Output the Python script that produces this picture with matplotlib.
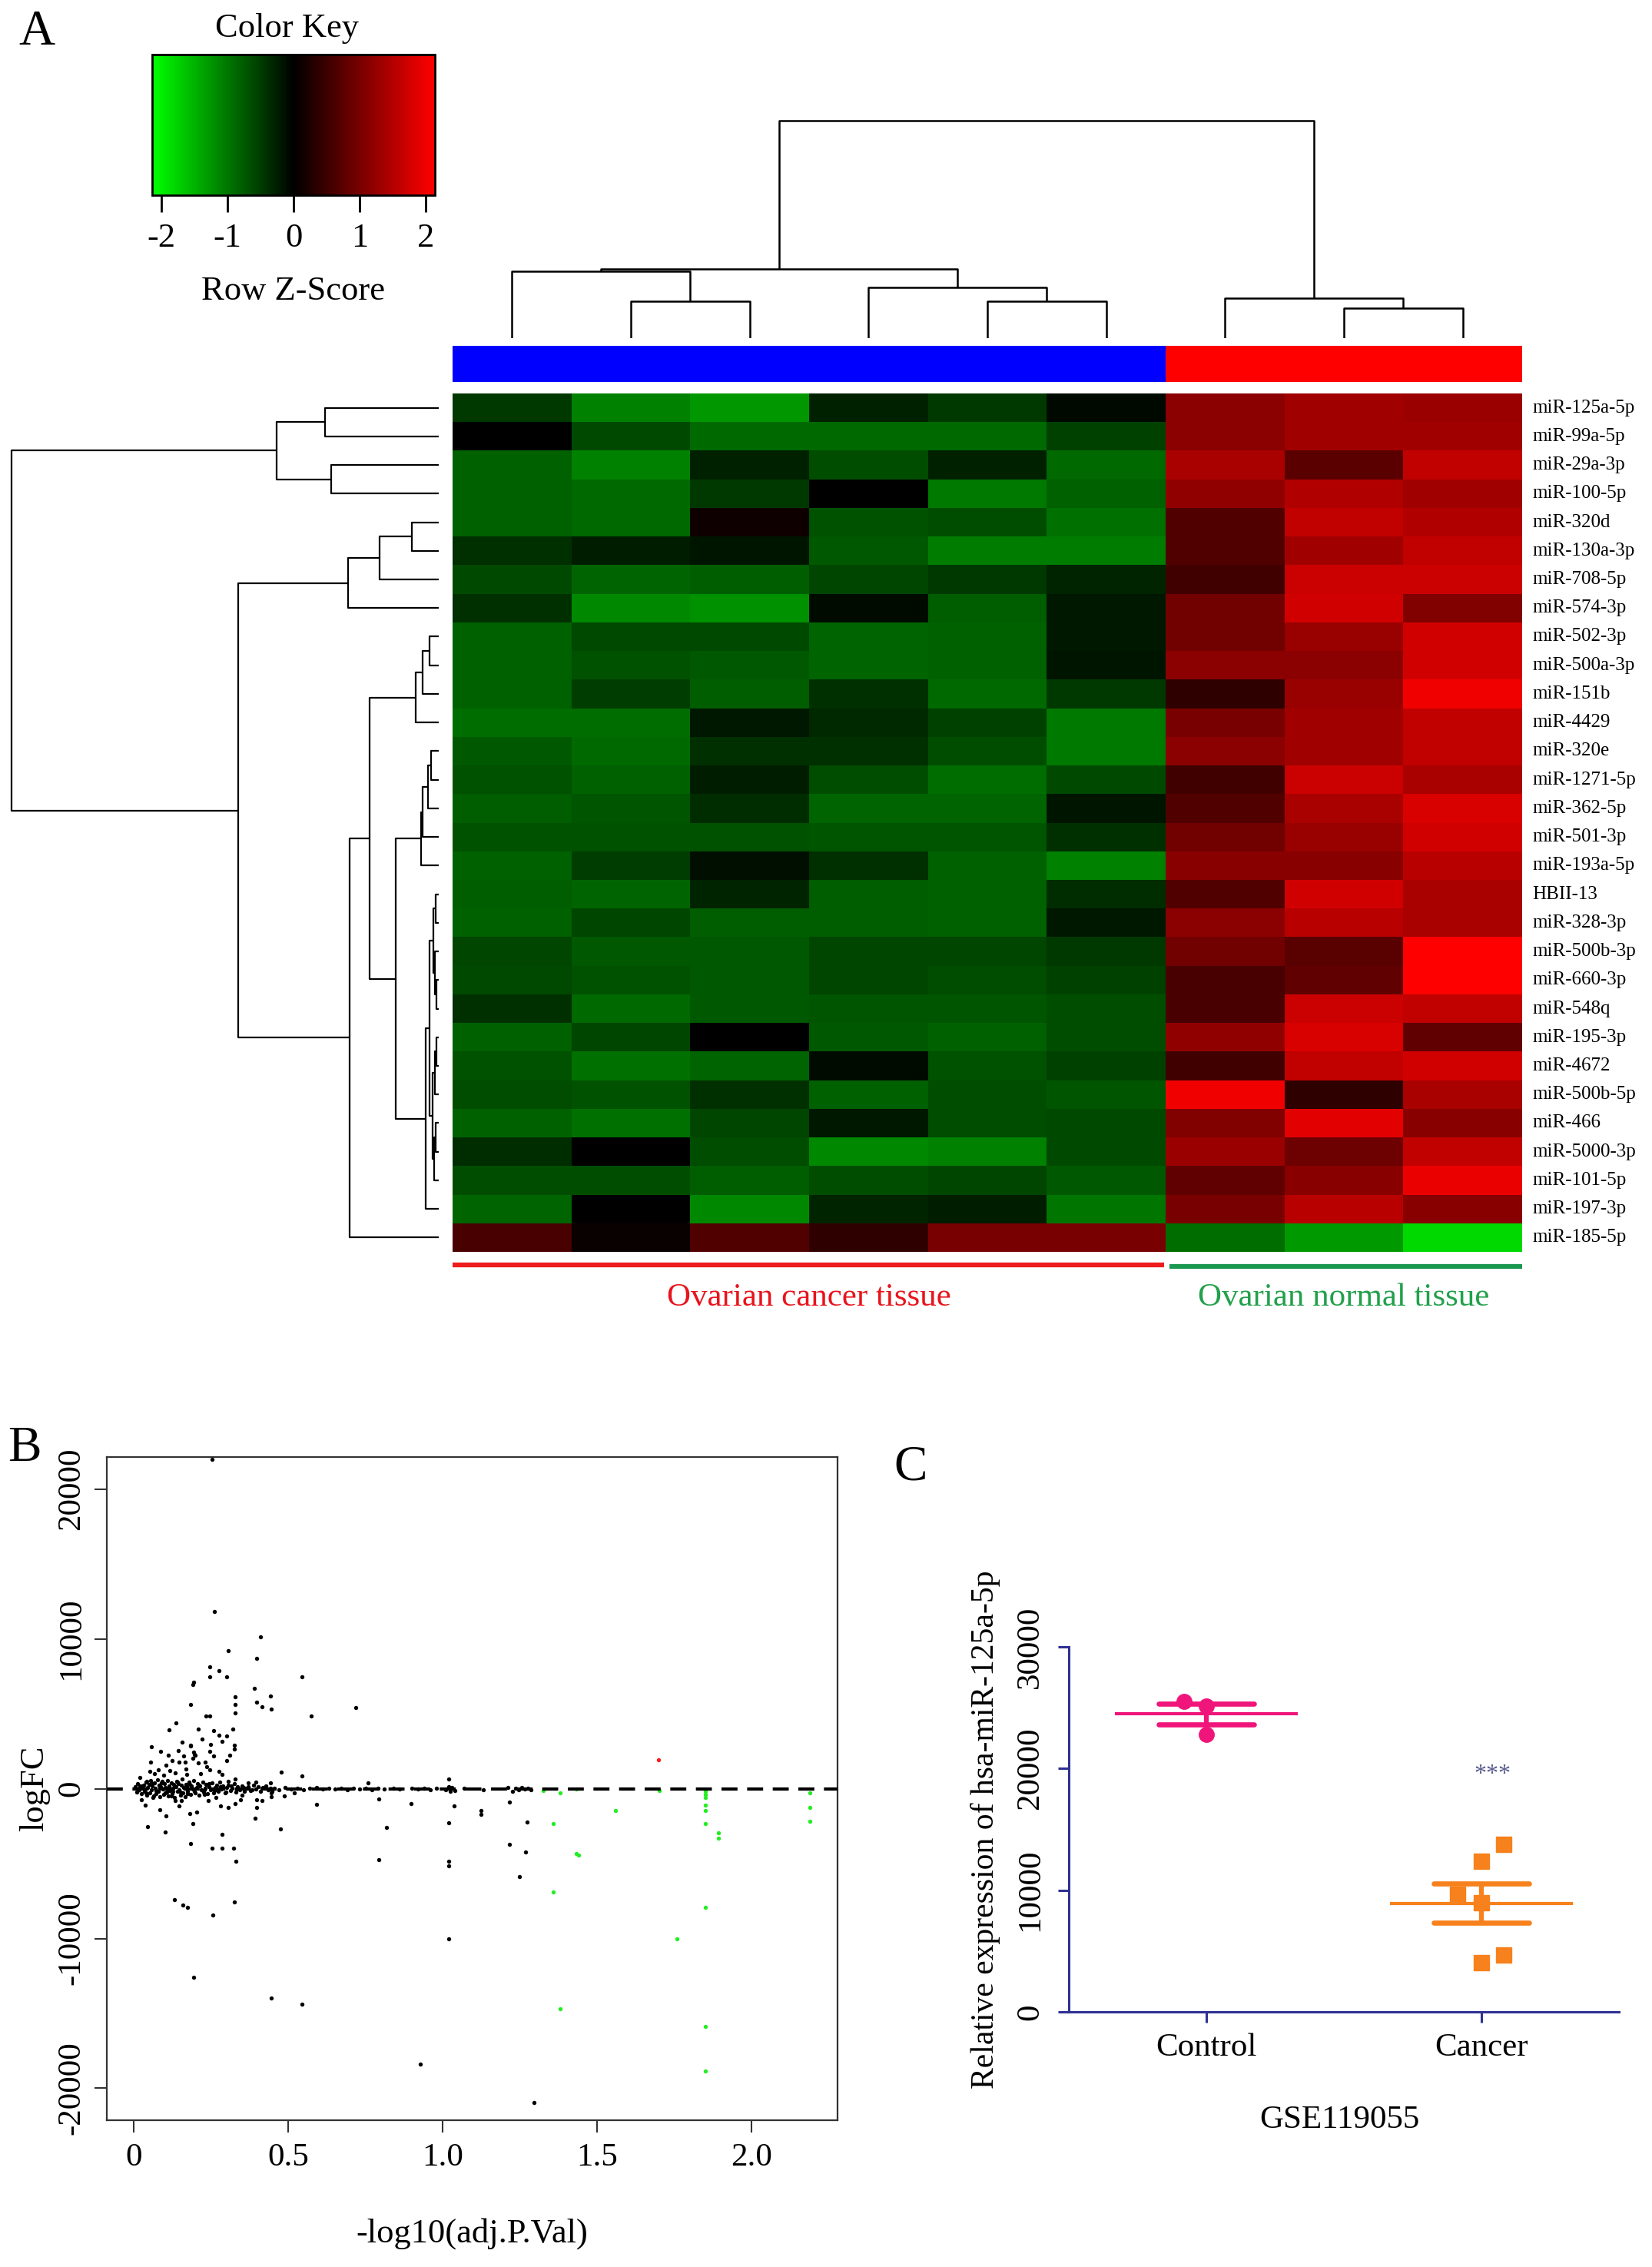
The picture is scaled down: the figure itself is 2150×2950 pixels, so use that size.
import numpy as np
import matplotlib.pyplot as plt
from matplotlib.colors import LinearSegmentedColormap, Normalize
from matplotlib.cm import ScalarMappable

plt.rcParams['font.family'] = ['Liberation Serif', 'DejaVu Serif']
plt.rcParams['axes.unicode_minus'] = False

# ---------------- data: panel A heatmap (row z-scores) ----------------
mirnas = ["miR-125a-5p", "miR-99a-5p", "miR-29a-3p", "miR-100-5p", "miR-320d",
          "miR-130a-3p", "miR-708-5p", "miR-574-3p", "miR-502-3p", "miR-500a-3p",
          "miR-151b", "miR-4429", "miR-320e", "miR-1271-5p", "miR-362-5p",
          "miR-501-3p", "miR-193a-5p", "HBII-13", "miR-328-3p", "miR-500b-3p",
          "miR-660-3p", "miR-548q", "miR-195-3p", "miR-4672", "miR-500b-5p",
          "miR-466", "miR-5000-3p", "miR-101-5p", "miR-197-3p", "miR-185-5p"]

zscores = [
    [-0.47, -1.08, -1.26, -0.27, -0.47, -0.07, 1.17, 1.35, 1.30],
    [0.00, -0.61, -0.88, -0.88, -0.88, -0.54, 1.17, 1.35, 1.35],
    [-0.81, -1.08, -0.27, -0.64, -0.27, -0.88, 1.42, 0.76, 1.62],
    [-0.81, -0.88, -0.47, 0.00, -1.01, -0.81, 1.21, 1.48, 1.35],
    [-0.81, -0.88, 0.13, -0.67, -0.64, -0.94, 0.67, 1.62, 1.48],
    [-0.40, -0.24, -0.17, -0.74, -1.05, -1.05, 0.67, 1.35, 1.62],
    [-0.61, -0.84, -0.78, -0.57, -0.47, -0.30, 0.54, 1.69, 1.69],
    [-0.40, -1.15, -1.21, -0.10, -0.78, -0.20, 0.94, 1.75, 1.08],
    [-0.81, -0.61, -0.61, -0.84, -0.81, -0.20, 0.94, 1.28, 1.75],
    [-0.81, -0.67, -0.74, -0.84, -0.81, -0.17, 1.16, 1.16, 1.75],
    [-0.81, -0.51, -0.78, -0.40, -0.88, -0.47, 0.40, 1.28, 2.02],
    [-0.91, -0.91, -0.20, -0.34, -0.54, -1.01, 1.01, 1.35, 1.62],
    [-0.74, -0.88, -0.40, -0.40, -0.64, -1.01, 1.16, 1.35, 1.62],
    [-0.67, -0.81, -0.24, -0.64, -0.91, -0.61, 0.54, 1.69, 1.42],
    [-0.78, -0.71, -0.37, -0.84, -0.84, -0.17, 0.67, 1.42, 1.82],
    [-0.67, -0.67, -0.67, -0.71, -0.71, -0.40, 0.94, 1.28, 1.75],
    [-0.81, -0.51, -0.13, -0.40, -0.81, -1.08, 1.15, 1.15, 1.55],
    [-0.78, -0.84, -0.30, -0.78, -0.81, -0.37, 0.67, 1.75, 1.42],
    [-0.81, -0.57, -0.78, -0.78, -0.81, -0.20, 1.16, 1.55, 1.42],
    [-0.57, -0.74, -0.74, -0.57, -0.57, -0.47, 0.94, 0.74, 2.15],
    [-0.61, -0.67, -0.74, -0.57, -0.64, -0.54, 0.61, 0.81, 2.15],
    [-0.40, -0.88, -0.74, -0.71, -0.71, -0.64, 0.61, 1.69, 1.62],
    [-0.81, -0.57, 0.00, -0.74, -0.81, -0.64, 1.21, 1.82, 0.81],
    [-0.67, -0.94, -0.84, -0.10, -0.67, -0.54, 0.54, 1.62, 1.75],
    [-0.64, -0.67, -0.40, -0.81, -0.64, -0.71, 2.02, 0.40, 1.42],
    [-0.81, -0.94, -0.57, -0.20, -0.64, -0.61, 1.08, 1.89, 1.15],
    [-0.37, 0.00, -0.64, -1.15, -1.08, -0.61, 1.30, 0.91, 1.62],
    [-0.64, -0.64, -0.78, -0.64, -0.57, -0.74, 0.81, 1.15, 1.96],
    [-0.84, 0.00, -1.15, -0.30, -0.24, -0.98, 1.01, 1.55, 1.15],
    [0.61, 0.07, 0.67, 0.40, 1.01, 1.01, -0.91, -1.28, -1.82],
]

sample_group = ["cancer"] * 6 + ["normal"] * 3
key_ticks = [-2, -1, 0, 1, 2]

# dendrograms: (left, right, height); leaves are column / row indices
col_tree = (((0, (1, 2, 48), 87), (3, (4, 5, 48), 66), 90),
            (6, (7, 8, 39), 52), 283)

row_g03 = ((0, 1, 148), (2, 3, 140), 211)
row_g47 = ((((4, 5, 35), 6, 77), 7, 118))
row_g811 = (((8, 9, 12), 10, 21), 11, 30)
row_g1216 = ((((12, 13, 10), 14, 13.5), 15, 21), 16, 23)
row_g1727 = (((17, 18, 4), (19, (20, 21, 3), 5), 7),
             (((22, 23, 3), 24, 5), ((25, 26, 4), 27, 6), 8), 12)
row_tree = (row_g03,
            (row_g47, (((row_g811, (row_g1216, (row_g1727, 28, 17), 56), 90), 29, 116)), 261),
            556)

# ---------------- data: panel B volcano-like scatter ----------------
black_pts = [
    (0.253, 22000), (0.260, 11815), (0.409, 10140), (0.304, 9200), (0.396, 8690),
    (0.246, 8140), (0.276, 7880), (0.246, 7490), (0.299, 7460), (0.545, 7460),
    (0.192, 7100), (0.190, 6980), (0.390, 6720), (0.441, 6210), (0.328, 6140),
    (0.396, 5780), (0.328, 5640), (0.182, 5640), (0.415, 5470), (0.444, 5300),
    (0.719, 5400), (0.328, 5040), (0.575, 4840), (0.232, 4840), (0.246, 4840),
    (0.114, 3930), (0.137, 4380), (0.207, 3980), (0.257, 3870), (0.274, 3560),
    (0.299, 3510), (0.286, 3160), (0.319, 3980), (0.326, 2920), (0.326, 2630),
    (0.311, 2220), (0.299, 1900), (0.257, 2190), (0.249, 2940), (0.245, 2510),
    (0.184, 2920), (0.192, 2430), (0.199, 2220), (0.056, 2820), (0.085, 2480),
    (0.110, 2220), (0.143, 2530), (0.054, 1800), (0.123, 1900), (0.145, 1760),
    (0.166, 1760), (0.169, 1300), (0.104, 1560), (0.052, 1160), (0.079, 1250),
    (0.019, 770), (0.183, 2840), (0.191, 2020), (0.195, 2280), (0.207, 1730),
    (0.230, 1760), (0.245, 1250), (0.274, 1160), (0.328, 650), (0.477, 1110),
    (0.543, 870), (0.757, 390), (0.304, 510), (0.371, 390), (0.394, 430),
    (0.441, 390), (1.019, 650), (0.155, 3100), (0.221, 3300), (0.160, 2200),
    (0.170, 950), (0.133, 1050), (0.215, 1000), (0.236, 1450), (0.285, 950),
    (0.095, 900), (0.042, 500), (0.066, 1000), (0.117, 1200),
    (0.025, -720), (0.036, -1090), (0.083, -1400), (0.104, -1830), (0.133, -800),
    (0.145, -1140), (0.153, -800), (0.180, -1660), (0.203, -1570), (0.241, -800),
    (0.280, -1140), (0.304, -1230), (0.328, -1010), (0.344, -720), (0.396, -1230),
    (0.415, -800), (0.487, -460), (0.518, -290), (0.590, -1060), (0.792, -680),
    (0.896, -970), (0.396, -720), (0.444, -550), (0.444, -290),
    (0.045, -2520), (0.102, -2880), (0.191, -2340), (0.284, -3060), (0.393, -1980),
    (0.474, -2700), (0.817, -2590), (1.019, -2270), (1.037, -1150), (1.124, -1440),
    (1.124, -1730), (0.254, -3960), (0.286, -3960), (0.322, -3960), (0.182, -3680),
    (0.329, -4860), (0.792, -4760), (1.019, -4860), (1.019, -5150), (1.215, -3710),
    (1.269, -4220), (1.247, -5870), (1.272, -2230), (1.215, -900), (0.131, -7385),
    (0.159, -7760), (0.172, -7900), (0.255, -8410), (0.326, -7550), (0.192, -12600),
    (0.444, -13960), (0.543, -14390), (1.019, -10020), (0.927, -18410), (1.296, -20970),
    (0.120, -500), (0.062, -600), (0.228, -400), (0.265, -600), (0.172, -350), (0.350, -450),
]

band_pts = [
    (0.004, 120), (0.008, -210), (0.012, 330), (0.016, -60), (0.020, 180), (0.024, -340),
    (0.028, 60), (0.031, 260), (0.035, -150), (0.038, 420), (0.042, -410), (0.045, 90),
    (0.048, 300), (0.051, -260), (0.054, 520), (0.057, -90), (0.060, 200), (0.063, -470),
    (0.066, 380), (0.069, 40), (0.072, -320), (0.075, 610), (0.078, -180), (0.081, 250),
    (0.084, -550), (0.087, 140), (0.090, 470), (0.093, -30), (0.096, -380), (0.099, 330),
    (0.102, 80), (0.105, -240), (0.108, 560), (0.111, -480), (0.114, 190), (0.117, -120),
    (0.120, 400), (0.123, -330), (0.126, 20), (0.129, 280), (0.132, -590), (0.135, 150),
    (0.138, 500), (0.141, -200), (0.144, 350), (0.147, -60), (0.150, -420), (0.153, 230),
    (0.156, 640), (0.159, -300), (0.162, 70), (0.165, -520), (0.168, 310), (0.171, 120),
    (0.174, -160), (0.178, 440), (0.182, -370), (0.186, 200), (0.190, -40), (0.194, 540),
    (0.198, -260), (0.202, 100), (0.206, 360), (0.210, -440), (0.214, 170), (0.218, -90),
    (0.222, 460), (0.226, -220), (0.230, 30), (0.234, 290), (0.238, -350), (0.242, 140),
    (0.247, -80), (0.252, 380), (0.257, -270), (0.262, 60), (0.267, 230), (0.272, -190),
    (0.277, 450), (0.282, -30), (0.288, 180), (0.294, -300), (0.300, 90), (0.306, 260),
    (0.312, -140), (0.318, 20), (0.324, 340), (0.330, -230), (0.336, 110), (0.343, -60),
    (0.350, 200), (0.357, -170), (0.364, 50), (0.371, 150), (0.378, -110), (0.386, 240),
    (0.394, -40), (0.402, 120), (0.410, -200), (0.418, 60), (0.426, 180), (0.434, -90),
    (0.441, 30), (0.447, -150), (0.455, 40), (0.47, -60), (0.49, 90), (0.51, -30),
    (0.53, 50), (0.55, -80), (0.57, 20), (0.59, 60), (0.61, -40), (0.63, 30),
    (0.65, -20), (0.67, 50), (0.69, -50), (0.71, 20), (0.73, -30), (0.75, 40),
    (0.77, -70), (0.79, 10), (0.81, -40), (0.84, 30), (0.86, -20), (0.90, 50),
    (0.92, -30), (0.94, 20), (0.96, -60), (0.98, 40), (1.01, -80), (1.02, 120),
    (1.025, -200), (1.03, 60), (1.04, -120), (1.07, 30), (1.13, -50), (1.21, 80),
    (1.225, -150), (1.235, 30), (1.245, -90), (1.255, 60), (1.265, -40), (1.275, 20),
    (1.285, -60),
    (0.010, -40), (0.026, 210), (0.040, -260), (0.058, 330), (0.071, -120), (0.088, 380),
    (0.101, -300), (0.113, 60), (0.127, -150), (0.140, 420), (0.152, -250), (0.167, 40),
    (0.180, 300), (0.196, -180), (0.211, 240), (0.228, -60), (0.244, 330), (0.260, -140),
    (0.279, 110), (0.297, -220), (0.315, 170), (0.333, -30), (0.355, 90), (0.381, -60),
]

green_pts = [
    (1.357, -2340), (1.357, -6920), (1.439, -4430), (1.433, -4320), (1.559, -1440),
    (1.380, -14700), (1.757, -10020), (1.850, -7930), (1.850, -15860), (1.850, -18850),
    (1.850, -1080), (1.850, -1440), (1.850, -2310), (1.850, -360), (1.893, -2950),
    (1.893, -3280), (2.188, -1260), (2.188, -2160), (2.188, -290), (1.326, -100),
    (1.380, -290), (1.433, -40), (1.702, -140), (1.850, -150), (1.850, -600),
]
red_pts = [(1.698, 1950)]

# ---------------- data: panel C ----------------
groups_c = ["Control", "Cancer"]
control_vals = [25530, 25110, 22800]
cancer_vals = [13750, 12410, 9650, 8950, 4040, 4650]
control_jit = [-0.08, 0.0, 0.0]
cancer_jit = [0.08, 0.0, -0.085, 0.0, 0.0, 0.08]

# ---------------- figure ----------------
W, H = 2150, 2950
fig = plt.figure(figsize=(W / 100, H / 100), dpi=100)


def box(x0, y0, x1, y1):
    # pixel box, origin top-left -> figure rect
    return [x0 / W, 1 - y1 / H, (x1 - x0) / W, (y1 - y0) / H]


def draw_tree(ax, node, orient):
    if isinstance(node, int):
        return node + 0.5, 0.0
    left, right, h = node
    p1, h1 = draw_tree(ax, left, orient)
    p2, h2 = draw_tree(ax, right, orient)
    pos = [p1, p1, p2, p2]
    hh = [h1, h, h, h2]
    if orient == "top":
        ax.plot(pos, hh, color="black", lw=1.8, solid_capstyle="butt")
    else:
        ax.plot(hh, pos, color="black", lw=1.6, solid_capstyle="butt")
    return (p1 + p2) / 2, h


gbr = LinearSegmentedColormap.from_list("greenred", ["#00ff00", "#000000", "#ff0000"])
zlim = 2.14
n_rows, n_cols = len(mirnas), len(sample_group)

# heatmap
ax_hm = fig.add_axes(box(589, 512, 1981, 1629))
ax_hm.pcolormesh(np.arange(n_cols + 1), np.arange(n_rows + 1), np.array(zscores),
                 cmap=gbr, vmin=-zlim, vmax=zlim)
ax_hm.set_xlim(0, n_cols)
ax_hm.set_ylim(n_rows, 0)
ax_hm.axis("off")
for i, lab in enumerate(mirnas):
    ax_hm.text(n_cols + 0.085, i + 0.5, lab, ha="left", va="center", fontsize=18)

# group lines + labels under heatmap
n_cancer = sample_group.count("cancer")
ax_hm.plot([0, n_cancer - 0.01], [30.46, 30.46], color="#ee1c1c", lw=4.5,
           clip_on=False, solid_capstyle="butt")
ax_hm.plot([n_cancer + 0.03, n_cols], [30.5, 30.5], color="#1a9850", lw=4.5,
           clip_on=False, solid_capstyle="butt")
ax_hm.text(n_cancer / 2, 31.6, "Ovarian cancer tissue", color="#e8141c",
           ha="center", va="center", fontsize=31)
ax_hm.text((n_cancer + n_cols) / 2, 31.6, "Ovarian normal tissue", color="#22a04b",
           ha="center", va="center", fontsize=31)

# column side colours
ax_cs = fig.add_axes(box(589, 450, 1981, 497))
side_col = {"cancer": "#0000ff", "normal": "#ff0000"}
ax_cs.bar(np.arange(n_cols) + 0.5, np.ones(n_cols), width=1.0,
          color=[side_col[g] for g in sample_group], linewidth=0)
ax_cs.set_xlim(0, n_cols)
ax_cs.set_ylim(0, 1)
ax_cs.axis("off")

# column dendrogram
ax_top = fig.add_axes(box(589, 150, 1981, 440))
draw_tree(ax_top, col_tree, "top")
ax_top.set_xlim(0, n_cols)
ax_top.set_ylim(0, 290)
ax_top.axis("off")

# row dendrogram
ax_left = fig.add_axes(box(10, 512, 571, 1629))
draw_tree(ax_left, row_tree, "left")
ax_left.set_xlim(561, 0)
ax_left.set_ylim(n_rows, 0)
ax_left.axis("off")

# colour key
ax_key = fig.add_axes(box(198, 71, 566, 254))
sm = ScalarMappable(norm=Normalize(-zlim, zlim), cmap=gbr)
cb = fig.colorbar(sm, cax=ax_key, orientation="horizontal", ticks=key_ticks)
cb.outline.set_linewidth(2)
cb.ax.set_xticklabels([str(t) for t in key_ticks])
cb.ax.tick_params(axis="x", labelsize=32, length=16, width=2, pad=10)
fig.text(373 / W, 1 - 37 / H, "Color Key", ha="center", va="center", fontsize=32)
fig.text(382 / W, 1 - 379 / H, "Row Z-Score", ha="center", va="center", fontsize=32)
fig.text(48 / W, 1 - 42 / H, "A", ha="center", va="center", fontsize=47)

# ---------------- panel B ----------------
ax_b = fig.add_axes(box(139, 1896, 1090, 2759))
bx, by = zip(*band_pts)
ax_b.scatter(bx, by, s=15, color="black", linewidths=0, zorder=3)
bx, by = zip(*black_pts)
ax_b.scatter(bx, by, s=15, color="black", linewidths=0, zorder=3)
gx, gy = zip(*green_pts)
ax_b.scatter(gx, gy, s=15, color="#22ee22", linewidths=0, zorder=3)
rx, ry = zip(*red_pts)
ax_b.scatter(rx, ry, s=15, color="#ff1a1a", linewidths=0, zorder=3)
ax_b.axhline(0, color="black", lw=3, ls=(0, (5, 3)), zorder=4)
ax_b.set_xlim(-0.088, 2.278)
ax_b.set_ylim(-22130, 22140)
ax_b.set_xticks([0, 0.5, 1.0, 1.5, 2.0])
ax_b.set_xticklabels(["0", "0.5", "1.0", "1.5", "2.0"])
ax_b.set_yticks([-20000, -10000, 0, 10000, 20000])
ax_b.set_yticklabels(["-20000", "-10000", "0", "10000", "20000"], rotation=90, va="center")
ax_b.tick_params(labelsize=31, length=11.5, width=1.5, color="#333333")
ax_b.tick_params(axis="x", pad=10)
ax_b.tick_params(axis="y", pad=8)
for sp in ax_b.spines.values():
    sp.set_linewidth(1.6)
    sp.set_color("#333333")
ax_b.set_xlabel("-log10(adj.P.Val)", fontsize=32, labelpad=42)
ax_b.set_ylabel("logFC", fontsize=32, labelpad=6)
fig.text(32 / W, 1 - 1885 / H, "B", ha="center", va="center", fontsize=47)

# ---------------- panel C ----------------
navy = "#2e3192"
ax_c = fig.add_axes(box(1380, 2143, 2107, 2618))
c_colors = ["#f0157a", "#f7811c"]
c_markers = ["o", "s"]
for k, (vals, jit) in enumerate([(control_vals, control_jit), (cancer_vals, cancer_jit)]):
    vals = np.array(vals, dtype=float)
    xs = k + np.array(jit)
    ax_c.plot(xs, vals, ls="none", marker=c_markers[k], ms=14, color=c_colors[k],
              clip_on=False, zorder=3)
    m = vals.mean()
    sem = vals.std(ddof=1) / np.sqrt(len(vals))
    ax_c.hlines(m, k - 0.333, k + 0.333, color=c_colors[k], lw=3, zorder=4)
    ax_c.hlines([m - sem, m + sem], k - 0.173, k + 0.173, color=c_colors[k], lw=4.8,
                capstyle="round", zorder=4)
    ax_c.vlines(k, m - sem, m + sem, color=c_colors[k], lw=4.5, zorder=4)
ax_c.text(1.04, 19500, "***", color="#5b5e8e", ha="center", va="center", fontsize=23)
ax_c.set_xlim(-0.53, 1.5)
ax_c.set_ylim(0, 30000)
ax_c.spines["left"].set_position(("data", -0.5))
ax_c.spines["top"].set_visible(False)
ax_c.spines["right"].set_visible(False)
for sp in ["left", "bottom"]:
    ax_c.spines[sp].set_color(navy)
    ax_c.spines[sp].set_linewidth(2.2)
ax_c.set_xticks([0, 1])
ax_c.set_xticklabels(groups_c)
ax_c.set_yticks([0, 10000, 20000, 30000])
ax_c.set_yticklabels(["0", "10000", "20000", "30000"], rotation=90, va="center")
ax_c.tick_params(labelsize=31, length=10, width=2.2, color=navy)
ax_c.tick_params(axis="x", pad=10)
ax_c.tick_params(axis="y", pad=12)
ax_c.set_xlabel("GSE119055", fontsize=31, labelpad=40)
ax_c.set_ylabel("Relative expression of hsa-miR-125a-5p", fontsize=30, labelpad=14)
fig.text(1185 / W, 1 - 1910 / H, "C", ha="center", va="center", fontsize=47)

fig.savefig("out.png", dpi=100)
